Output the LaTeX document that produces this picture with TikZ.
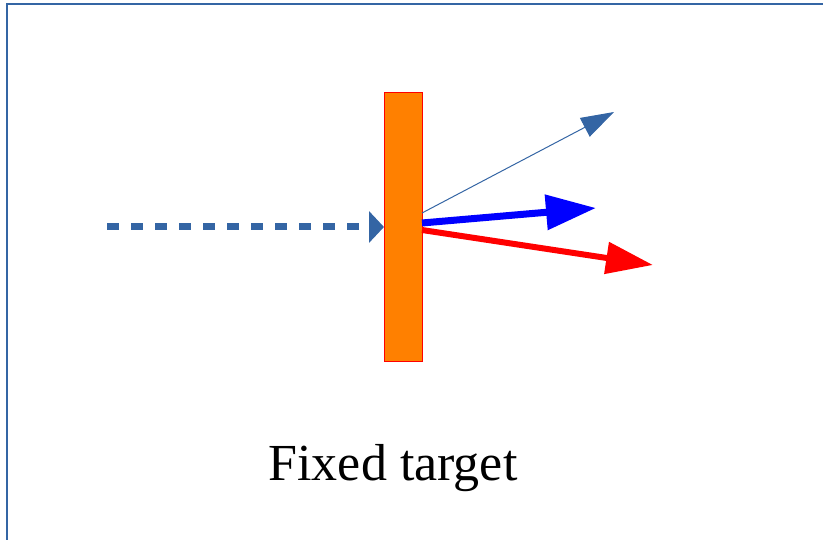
\documentclass[tikz,border=0pt]{standalone}
\usepackage{fontspec}
\setmainfont{Liberation Serif}
\usetikzlibrary{arrows.meta}
\definecolor{frameblue}{HTML}{3465A4}
\definecolor{slate}{HTML}{3465A4}
\definecolor{tgtorange}{HTML}{FF8000}
\begin{document}
\begin{tikzpicture}[x=1pt,y=-1pt,
  target/.style={draw=red, line width=0.6pt, fill=tgtorange, minimum width=38pt, minimum height=269pt, inner sep=0pt},
  beam/.style={draw=slate, line width=7pt, dash pattern=on 12pt off 12pt, -{Triangle[length=15pt,width=31pt]}},
  thin/.style={draw=slate, line width=1pt, -{Triangle[length=33pt,width=21pt]}},
  bluebeam/.style={draw=blue, line width=7pt, -{Triangle[length=50pt,width=34pt]}},
  redbeam/.style={draw=red, line width=6pt, -{Triangle[length=47pt,width=31pt]}},
  caption/.style={font=\fontsize{52}{60}\selectfont, inner sep=0pt, anchor=base}]
\useasboundingbox (0,0) rectangle (823,540);
\draw[frameblue, line width=1.3pt] (7,540) -- (7,4) -- (823,4);
\node[target] (tgt) at (403,226.5) {};
\coordinate (src) at (107,227);
\coordinate (hit) at (384,227);
\coordinate (p1) at (422,213);
\coordinate (p2) at (422,223);
\coordinate (p3) at (422,230);
\coordinate (e1) at (614,112);
\coordinate (e2) at (596,208);
\coordinate (e3) at (653,265);
\draw[beam] (src) -- (hit);
\draw[thin] (p1) -- (e1);
\draw[bluebeam] (p2) -- (e2);
\draw[redbeam] (p3) -- (e3);
\node[caption] (cap) at (393,480) {Fixed target};
\end{tikzpicture}
\end{document}
